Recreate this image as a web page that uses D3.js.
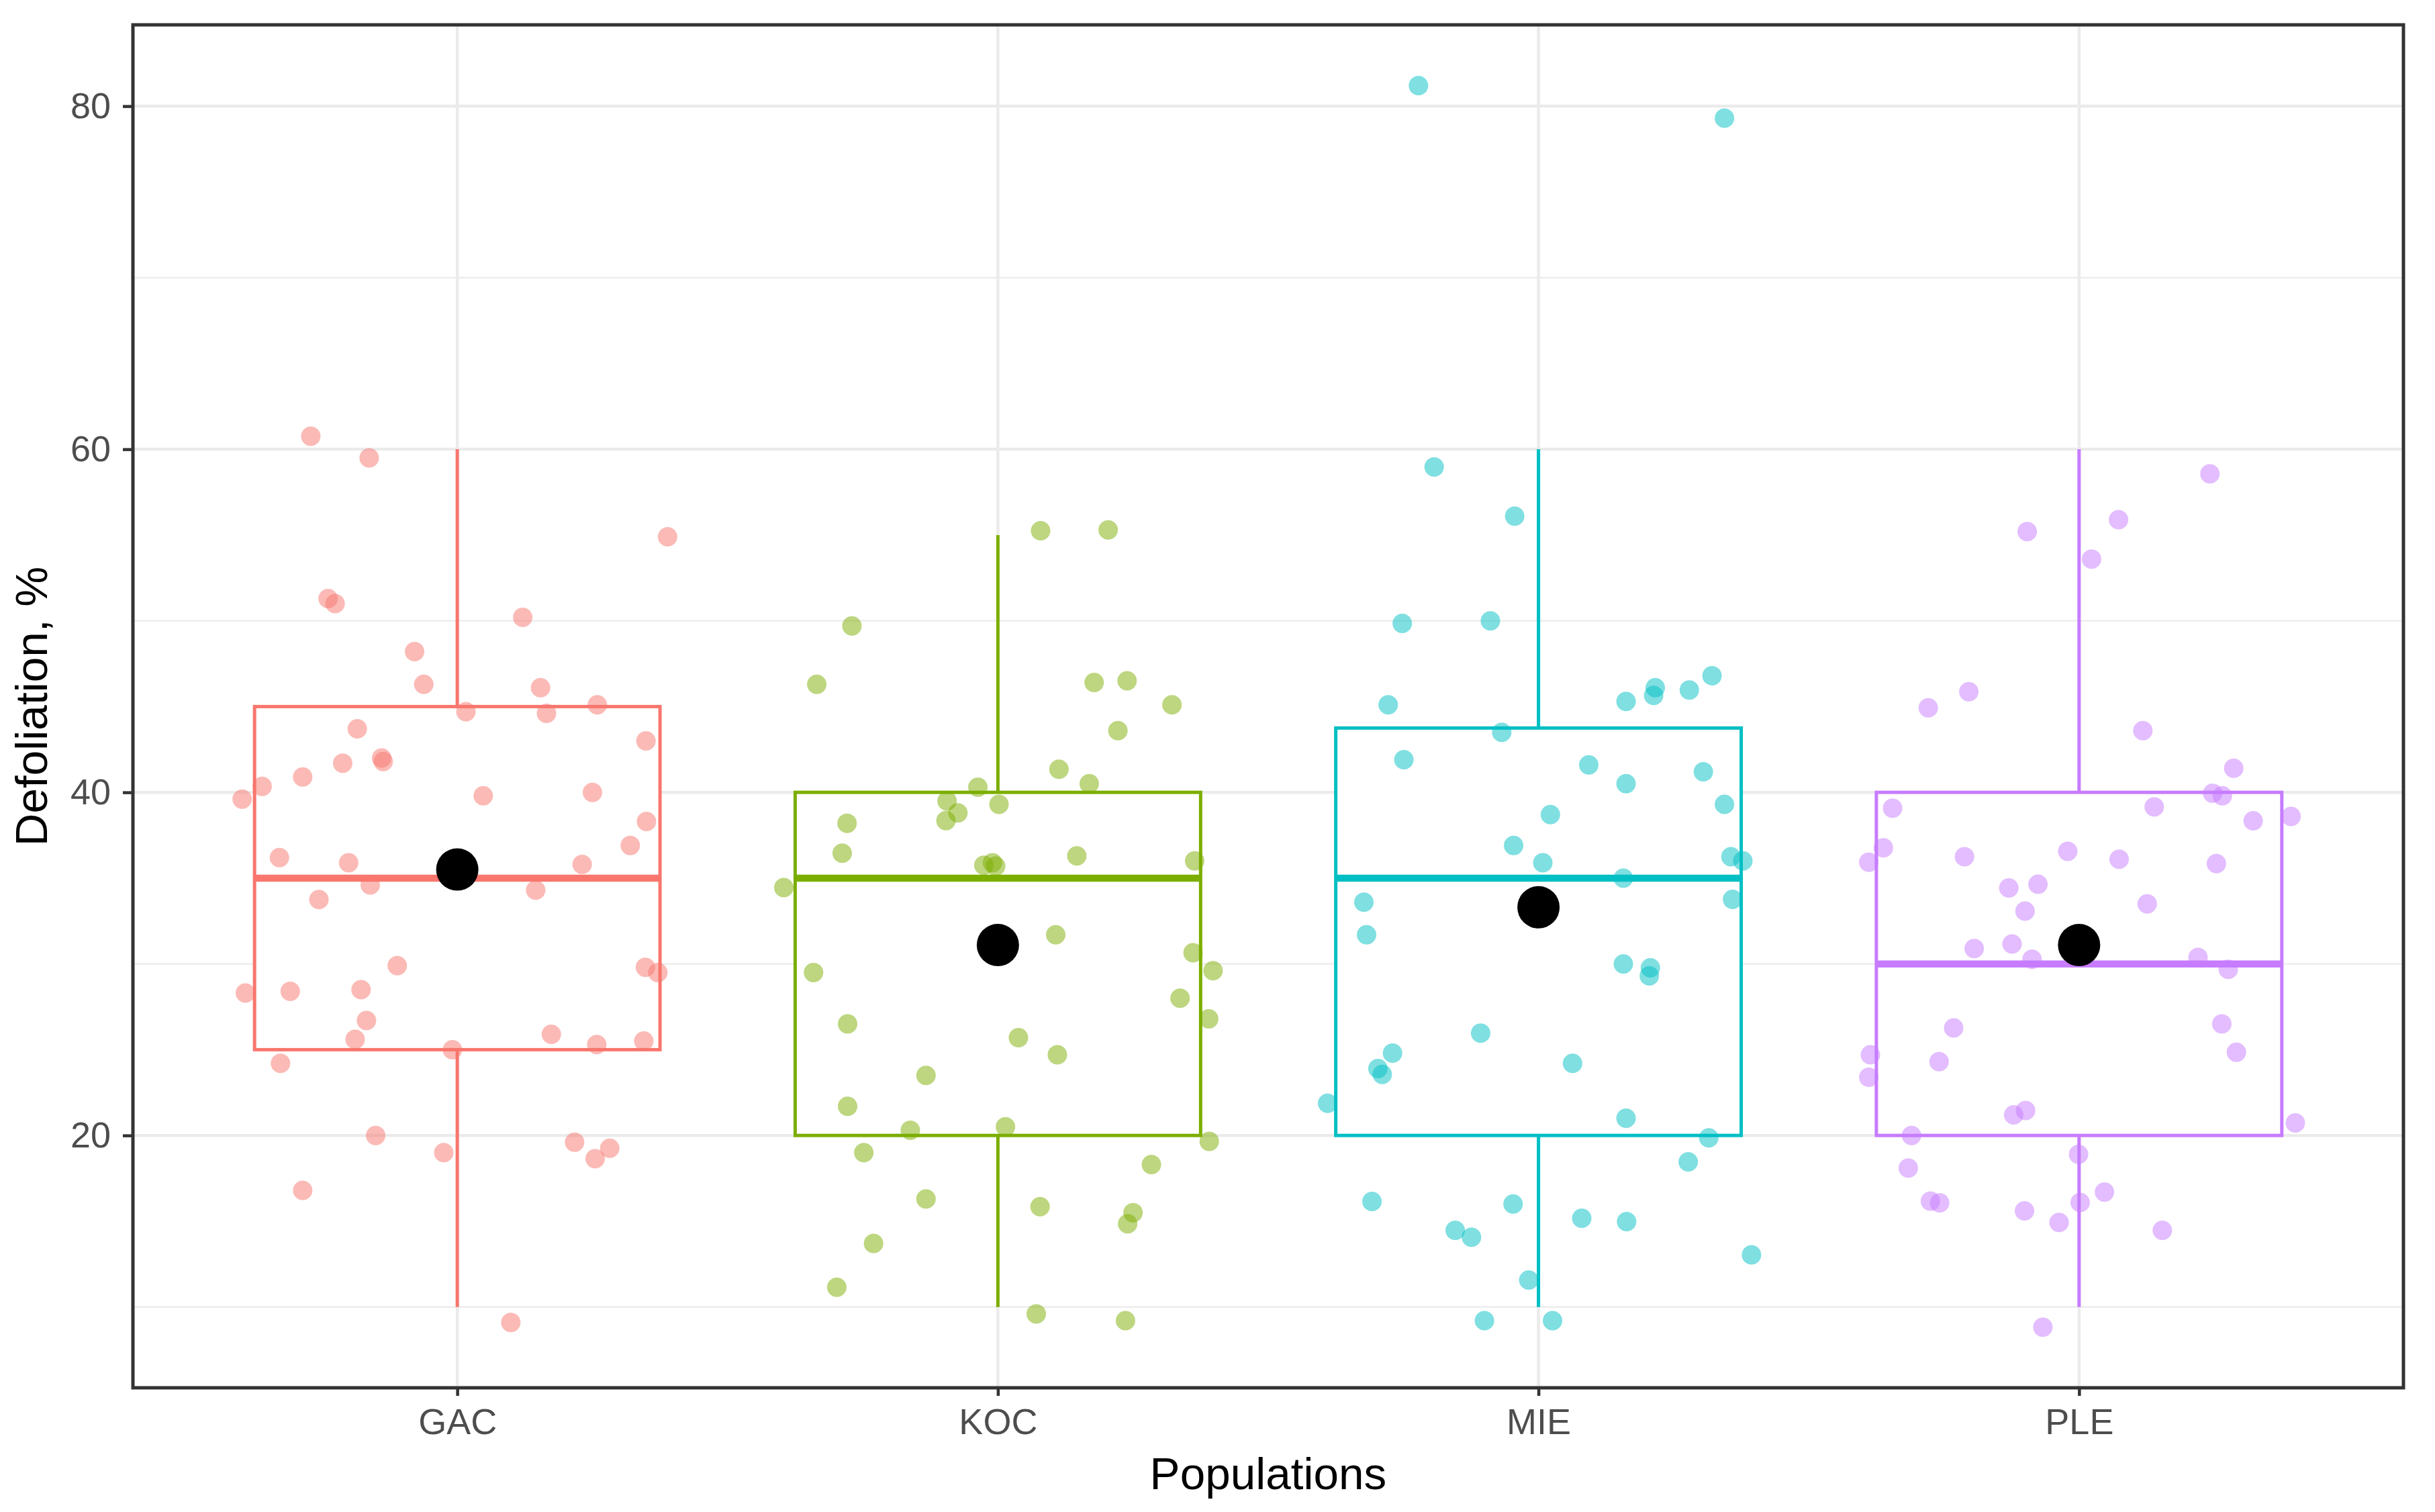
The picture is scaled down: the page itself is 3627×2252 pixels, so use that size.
<!DOCTYPE html>
<html>
<head>
<meta charset="utf-8">
<script src="https://cdn.jsdelivr.net/npm/d3@7"></script>
<style>
  html, body { margin: 0; padding: 0; background: #fff; }
  svg { display: block; }
</style>
</head>
<body>
<svg id="chart" width="3627" height="2252"></svg>
<script>
// ---------- data ----------
const categories = ["GAC", "KOC", "MIE", "PLE"];
const colors = ["#F8766D", "#7CAE00", "#00BFC4", "#C77CFF"];
const yTicks = [20, 40, 60, 80];
const yMinorTicks = [10, 30, 50, 70];

// box statistics
const lowerWhisker = [10, 10, 10, 10];
const q1 = [25, 20, 20, 20];
const medians = [35, 35, 35, 30];
const q3 = [45, 40, 43.75, 40];
const upperWhisker = [60, 55, 60, 60];
const means = [35.5, 31.1, 33.3, 31.1];

// jittered observations: value and horizontal jitter (category units)
const gacValues = [60.76,59.5,54.9,51.3,51.0,50.2,48.2,46.3,46.1,44.7,44.6,45.1,43.0,43.7,41.7,42.0,41.8,40.9,40.35,39.6,39.8,40.0,38.3,36.9,36.2,35.9,35.8,34.6,33.75,34.3,29.9,28.3,28.4,28.5,29.8,29.5,26.7,25.6,25.9,25.3,25.5,25.0,24.2,20.0,19.0,19.6,18.65,19.25,16.8,9.1];
const gacJitter = [-0.271,-0.163,0.389,-0.239,-0.226,0.121,-0.079,-0.062,0.154,0.016,0.165,0.259,0.349,-0.185,-0.212,-0.140,-0.137,-0.286,-0.361,-0.398,0.048,0.250,0.350,0.320,-0.329,-0.201,0.231,-0.161,-0.256,0.145,-0.111,-0.392,-0.309,-0.178,0.348,0.371,-0.168,-0.189,0.174,0.258,0.345,-0.009,-0.327,-0.151,-0.025,0.217,0.255,0.282,-0.286,0.099];

const kocValues = [55.25,55.3,49.7,46.3,46.4,46.5,45.1,43.6,41.35,40.5,40.3,39.3,39.5,38.8,38.35,38.2,36.45,35.9,35.75,35.7,36.3,36.0,34.45,31.7,30.65,29.6,29.5,28.0,26.8,26.5,25.7,24.7,23.5,21.7,20.3,20.5,19.65,19.0,18.3,16.3,15.85,15.5,14.85,13.7,11.15,9.6,9.2];
const kocJitter = [0.079,0.204,-0.270,-0.335,0.178,0.239,0.322,0.222,0.113,0.169,-0.037,0.002,-0.094,-0.074,-0.096,-0.279,-0.288,-0.010,-0.026,-0.004,0.146,0.364,-0.396,0.107,0.361,0.398,-0.341,0.337,0.390,-0.278,0.038,0.110,-0.133,-0.278,-0.162,0.014,0.391,-0.248,0.284,-0.133,0.078,0.250,0.240,-0.230,-0.298,0.071,0.236];

const mieValues = [81.2,79.3,58.97,56.1,49.85,50.0,45.1,45.3,46.1,45.65,45.96,46.8,43.5,41.9,41.6,40.5,41.2,38.7,39.3,36.9,35.9,36.25,36.0,35.0,33.6,31.7,33.76,30.0,29.77,29.3,25.96,24.8,23.9,23.56,24.2,21.87,21.0,19.86,18.46,16.15,16.0,15.17,14.98,14.47,14.07,13.04,11.57,9.2,9.2];
const mieJitter = [-0.222,0.344,-0.193,-0.044,-0.252,-0.089,-0.278,0.162,0.216,0.213,0.279,0.321,-0.068,-0.249,0.093,0.162,0.305,0.022,0.344,-0.046,0.008,0.356,0.378,0.157,-0.323,-0.318,0.359,0.157,0.207,0.205,-0.107,-0.270,-0.297,-0.289,0.063,-0.390,0.162,0.315,0.277,-0.308,-0.047,0.080,0.163,-0.154,-0.124,0.394,-0.018,-0.100,0.026];

const pleValues = [58.57,55.9,55.2,53.6,45.87,44.93,43.6,41.4,39.95,39.8,39.15,39.08,38.6,38.34,36.77,35.93,36.25,36.56,36.1,35.85,34.43,34.64,33.08,33.5,30.9,31.16,30.27,30.38,29.68,26.27,26.5,24.85,24.7,24.3,23.39,21.2,21.45,20.73,20.0,18.9,18.1,16.17,16.07,16.7,16.09,15.6,14.93,14.47,8.82];
const pleJitter = [0.242,0.073,-0.096,0.023,-0.204,-0.279,0.118,0.286,0.247,0.265,0.139,-0.345,0.392,0.322,-0.362,-0.389,-0.212,-0.021,0.074,0.254,-0.130,-0.076,-0.100,0.126,-0.194,-0.124,-0.087,0.220,0.276,-0.232,0.264,0.291,-0.386,-0.259,-0.389,-0.121,-0.099,0.400,-0.310,-0.001,-0.316,-0.275,-0.258,0.047,0.002,-0.101,-0.037,0.154,-0.067];

const groupValues = [gacValues, kocValues, mieValues, pleValues];
const groupJitter = [gacJitter, kocJitter, mieJitter, pleJitter];

// ---------- layout ----------
const panel = { left: 198, right: 3580, top: 37, bottom: 2067 };
const font = "'Liberation Sans', Arial, Helvetica, sans-serif";

const svg = d3.select("#chart");
svg.append("rect").attr("width", 3627).attr("height", 2252).attr("fill", "#fff");

const x = d3.scalePoint().domain(categories).range([panel.left, panel.right]).padding(0.6);
const y = d3.scaleLinear().domain([5.29, 84.74]).range([panel.bottom, panel.top]);
const step = x.step();

// grid
const grid = svg.append("g");
grid.selectAll(".minor").data(yMinorTicks).join("line")
  .attr("x1", panel.left).attr("x2", panel.right)
  .attr("y1", d => y(d)).attr("y2", d => y(d))
  .attr("stroke", "#EBEBEB").attr("stroke-width", 2.3);
grid.selectAll(".major").data(yTicks).join("line")
  .attr("x1", panel.left).attr("x2", panel.right)
  .attr("y1", d => y(d)).attr("y2", d => y(d))
  .attr("stroke", "#EBEBEB").attr("stroke-width", 4.5);
grid.selectAll(".vmajor").data(categories).join("line")
  .attr("x1", d => x(d)).attr("x2", d => x(d))
  .attr("y1", panel.top).attr("y2", panel.bottom)
  .attr("stroke", "#EBEBEB").attr("stroke-width", 4.5);

// boxplots
const boxes = svg.append("g");
categories.forEach((c, i) => {
  const cx = x(c);
  const hw = 0.375 * step;
  const g = boxes.append("g").attr("stroke", colors[i]).attr("fill", "none");
  g.append("line").attr("x1", cx).attr("x2", cx)
    .attr("y1", y(q3[i])).attr("y2", y(upperWhisker[i])).attr("stroke-width", 5);
  g.append("line").attr("x1", cx).attr("x2", cx)
    .attr("y1", y(q1[i])).attr("y2", y(lowerWhisker[i])).attr("stroke-width", 5);
  g.append("rect").attr("x", cx - hw).attr("width", 2 * hw)
    .attr("y", y(q3[i])).attr("height", y(q1[i]) - y(q3[i]))
    .attr("fill", "#fff").attr("stroke-width", 5);
  g.append("line").attr("x1", cx - hw).attr("x2", cx + hw)
    .attr("y1", y(medians[i])).attr("y2", y(medians[i])).attr("stroke-width", 10.5);
});

// jittered points
const pts = svg.append("g");
categories.forEach((c, i) => {
  const data = groupValues[i].map((v, k) => ({ v, j: groupJitter[i][k] }));
  pts.append("g").selectAll("circle").data(data).join("circle")
    .attr("cx", d => x(c) + d.j * step)
    .attr("cy", d => y(d.v))
    .attr("r", 14.5)
    .attr("fill", colors[i])
    .attr("fill-opacity", 0.5);
});

// means
svg.append("g").selectAll("circle").data(categories).join("circle")
  .attr("cx", d => x(d)).attr("cy", (d, i) => y(means[i]))
  .attr("r", 31.5).attr("fill", "#000");

// panel border
svg.append("rect")
  .attr("x", panel.left).attr("y", panel.top)
  .attr("width", panel.right - panel.left).attr("height", panel.bottom - panel.top)
  .attr("fill", "none").attr("stroke", "#333333").attr("stroke-width", 5);

// axes
const yAxis = svg.append("g").attr("transform", `translate(${panel.left},0)`)
  .call(d3.axisLeft(y).tickValues(yTicks).tickSize(15).tickPadding(18));
const xAxis = svg.append("g").attr("transform", `translate(0,${panel.bottom})`)
  .call(d3.axisBottom(x).tickSize(12).tickPadding(19));
[yAxis, xAxis].forEach(a => {
  a.select(".domain").remove();
  a.selectAll(".tick line").attr("stroke", "#333333").attr("stroke-width", 4.5);
  a.selectAll(".tick text").attr("fill", "#4D4D4D")
    .style("font-family", font).style("font-size", "54px");
});

// titles
svg.append("text")
  .attr("x", (panel.left + panel.right) / 2).attr("y", 2218)
  .attr("text-anchor", "middle")
  .style("font-family", font).style("font-size", "67.5px").attr("fill", "#000")
  .text("Populations");
svg.append("text")
  .attr("transform", `translate(70,${(panel.top + panel.bottom) / 2}) rotate(-90)`)
  .attr("text-anchor", "middle")
  .style("font-family", font).style("font-size", "67.5px").attr("fill", "#000")
  .text("Defoliation, %");
</script>
</body>
</html>
